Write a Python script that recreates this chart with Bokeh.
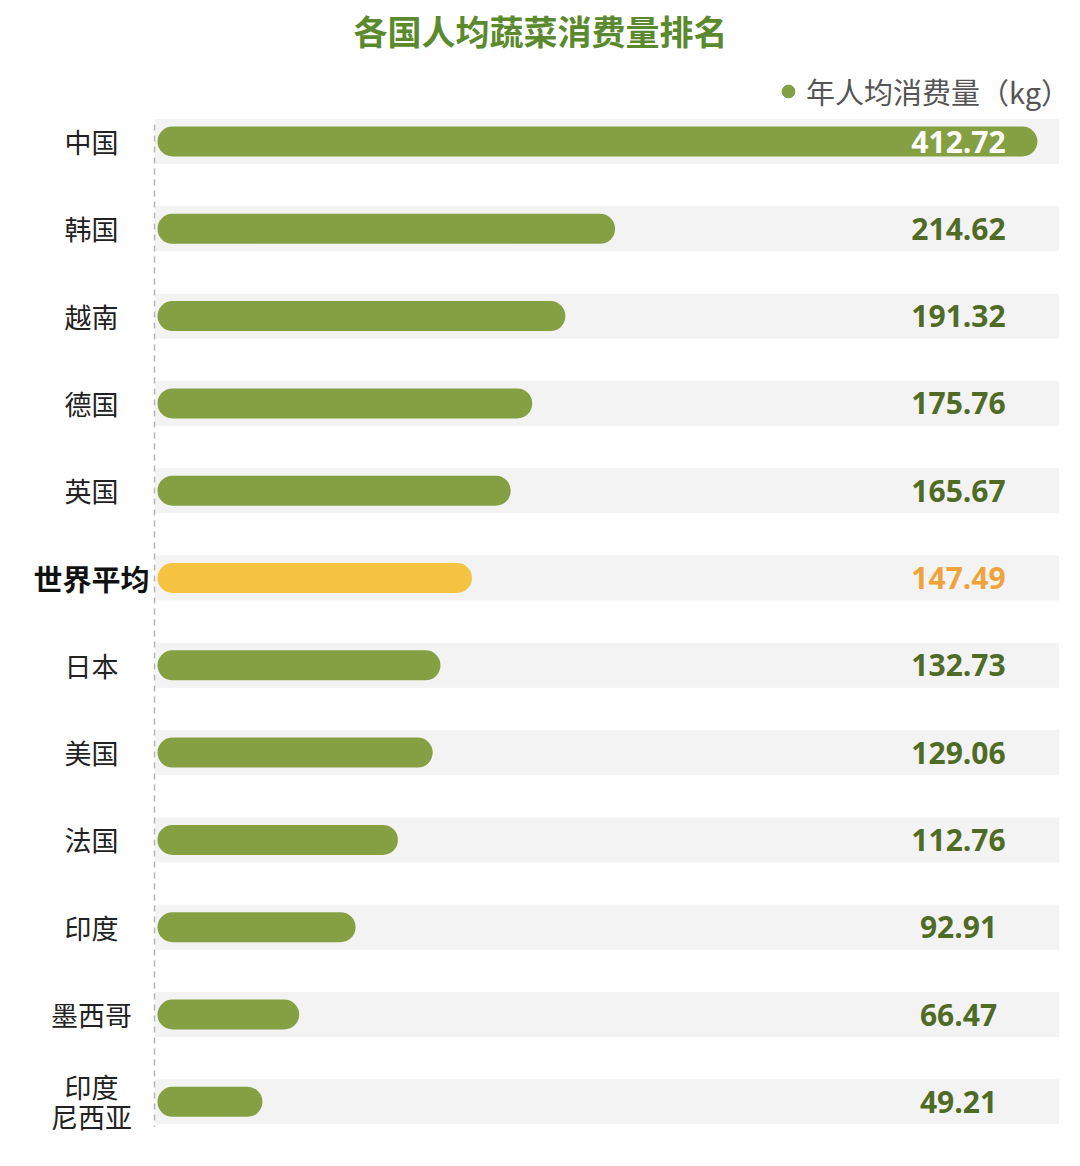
from bokeh.plotting import figure
from bokeh.models import Range1d, ColumnDataSource, Legend, LegendItem
from bokeh.core.properties import value
from bokeh.embed import file_html
from bokeh.resources import INLINE

# ---- data ----
countries = ["中国", "韩国", "越南", "德国", "英国", "世界平均", "日本", "美国", "法国", "印度", "墨西哥", "印度\n尼西亚"]
consumption = [412.72, 214.62, 191.32, 175.76, 165.67, 147.49, 132.73, 129.06, 112.76, 92.91, 66.47, 49.21]
highlight = "世界平均"
title_text = "各国人均蔬菜消费量排名"
legend_text = "年人均消费量（kg）"

# ---- styling ----
GREEN = "#84a043"
YELLOW = "#f5c242"
VAL_GREEN = "#4f6b26"
VAL_ORANGE = "#eea43a"
BAND = "#f3f3f3"
CJK = "Noto Sans CJK SC"

W, H = 1070, 1150
PX_PER_UNIT = 2.132       # horizontal pixels per kg
ROW_PX = 87.3             # vertical pixels per row
ORIGIN_X = 157            # canvas px where value 0 lies
ROW0_Y = 141              # canvas px of first row centre

x0 = -ORIGIN_X / PX_PER_UNIT
x1 = x0 + W / PX_PER_UNIT
ytop = -ROW0_Y / ROW_PX
ybot = ytop + H / ROW_PX

p = figure(width=W, height=H, output_backend="svg", toolbar_location=None,
           x_range=Range1d(x0, x1), y_range=Range1d(ybot, ytop),
           min_border=0, outline_line_color=None, background_fill_color="white",
           border_fill_color="white")
p.axis.visible = False
p.grid.visible = False

n = len(countries)
rows = list(range(n))
r = 15 / PX_PER_UNIT  # bar half-thickness in data units (round caps)

bar_colors = [YELLOW if c == highlight else GREEN for c in countries]
val_colors = ["white" if i == 0 else (VAL_ORANGE if c == highlight else VAL_GREEN)
              for i, c in enumerate(countries)]
lab_styles = ["bold" if c == highlight else "normal" for c in countries]
lab_colors = ["#111111" if c == highlight else "#222222" for c in countries]
lab_sizes = ["29px" if c == highlight else "27px" for c in countries]

src = ColumnDataSource(dict(
    y=rows, v=consumption,
    bx0=[r] * n, bx1=[v - r for v in consumption],
    band_l=[-2 / PX_PER_UNIT] * n, band_r=[901 / PX_PER_UNIT] * n,
    bar_color=bar_colors, val_color=val_colors,
    label=countries, lab_style=lab_styles, lab_color=lab_colors, lab_size=lab_sizes,
    vtext=[f"{v:.2f}" for v in consumption],
    vx=[801 / PX_PER_UNIT] * n, lx=[-66 / PX_PER_UNIT] * n,
))

# background bands
p.hbar(y="y", left="band_l", right="band_r", height=44 / ROW_PX, color=BAND, source=src)

# dashed axis line
p.segment(x0=-3 / PX_PER_UNIT, x1=-3 / PX_PER_UNIT, y0=-17 / ROW_PX, y1=(n - 1) + 25 / ROW_PX,
          line_color="#b5b5b5", line_width=1.5, line_dash="6 5")

# rounded bars
p.segment(x0="bx0", x1="bx1", y0="y", y1="y", line_width=30, line_cap="round",
          line_color="bar_color", source=src)

# value labels
p.text(x="vx", y="y", text="vtext", text_color="val_color", source=src,
       text_font=value("Open Sans"), text_font_style="bold", text_font_size="30px",
       text_align="center", text_baseline="middle")

# category labels
p.text(x="lx", y="y", text="label", text_color="lab_color", text_font_style="lab_style",
       text_font_size="lab_size", source=src, text_font=value(CJK),
       text_align="center", text_baseline="middle", text_line_height=0.78)

# title
p.text(x=[(540 - ORIGIN_X) / PX_PER_UNIT], y=[(30 - ROW0_Y) / ROW_PX], text=[title_text],
       text_font=value(CJK), text_font_style="bold", text_font_size="34px",
       text_color="#5b8a2e", text_align="center", text_baseline="middle")

# legend
dot = p.scatter(x=[-1000], y=[-1000], marker="circle", size=13, color=GREEN)
legend = Legend(items=[LegendItem(label=legend_text, renderers=[dot])],
                location=(772, 1038), orientation="horizontal",
                label_text_font=CJK, label_text_font_size="29px", label_text_color="#555555",
                glyph_width=32, glyph_height=32, label_standoff=2, padding=0, margin=0,
                border_line_color=None, background_fill_alpha=0)
p.add_layout(legend, "center")

open("out.html", "w").write(file_html(p, INLINE))
